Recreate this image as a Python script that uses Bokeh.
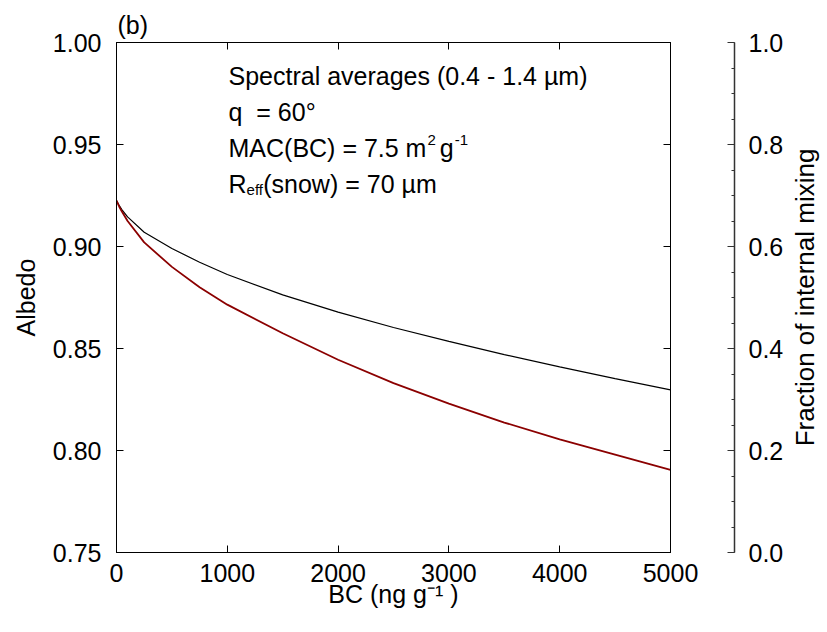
import math
from bokeh.plotting import figure
from bokeh.layouts import row
from bokeh.models import (Range1d, LinearAxis, FixedTicker, SingleIntervalTicker,
                          NumeralTickFormatter, CustomJSTickFormatter, Label)
from bokeh.embed import file_html
from bokeh.resources import INLINE

# ---- data ----
bc_ng_g = [0, 25, 50, 100, 250, 500, 750, 1000, 1500, 2000, 2500, 3000, 3500, 4000, 4500, 5000]
albedo_black = [0.9225, 0.9200, 0.9180, 0.9145, 0.9070, 0.8990, 0.8923, 0.8863, 0.8763,
                0.8678, 0.8603, 0.8535, 0.8470, 0.8410, 0.8352, 0.8297]
albedo_red = [0.9225, 0.9195, 0.9170, 0.9125, 0.9020, 0.8900, 0.8800, 0.8715, 0.8575,
              0.8445, 0.8330, 0.8230, 0.8137, 0.8055, 0.7980, 0.7905]
x_ticks = [0, 1000, 2000, 3000, 4000, 5000]
y_ticks = [0.75, 0.80, 0.85, 0.90, 0.95, 1.00]
frac_range = (0.0, 1.0)

FONT = "Liberation Sans"
FS = 25

p = figure(frame_width=554, frame_height=510, output_backend="svg", toolbar_location=None,
           x_range=Range1d(0, 5000), y_range=Range1d(0.75, 1.00),
           min_border_left=116, min_border_right=114, min_border_top=42, min_border_bottom=72)
p.grid.visible = False
p.outline_line_color = "black"
p.outline_line_width = 1
p.background_fill_color = "white"
p.border_fill_color = "white"

# panel letter as the plot title
p.title.text = "(b)"
p.title.text_font = FONT
p.title.text_font_size = f"{FS}px"
p.title.text_font_style = "normal"
p.title.text_color = "black"
p.title.align = "left"
p.title.offset = 1
p.title.standoff = 8

def style_axis(ax, labels=True):
    ax.major_tick_in = 7
    ax.major_tick_out = 0
    ax.minor_tick_in = 0
    ax.minor_tick_out = 0
    ax.axis_line_color = "black"
    ax.major_tick_line_color = "black"
    ax.major_label_text_font = FONT
    ax.major_label_text_font_size = f"{FS}px"
    ax.major_label_text_color = "black"
    ax.axis_label_text_font = FONT
    ax.axis_label_text_font_size = f"{FS}px"
    ax.axis_label_text_font_style = "normal"
    ax.axis_label_text_color = "black"
    if not labels:
        ax.formatter = CustomJSTickFormatter(code="return ''")

# bottom axis
xa = p.xaxis[0]
xa.ticker = FixedTicker(ticks=x_ticks)
xa.formatter = NumeralTickFormatter(format="0")
style_axis(xa)
xa.major_label_standoff = 11
xa.axis_label = "BC (ng g\u207b\u00b9 )"
xa.axis_label_standoff = -5

# left axis
ya = p.yaxis[0]
ya.ticker = FixedTicker(ticks=y_ticks)
ya.formatter = NumeralTickFormatter(format="0.00")
style_axis(ya)
ya.major_label_standoff = 15
ya.axis_label = "Albedo"
ya.axis_label_standoff = 10

# top axis (ticks only)
xt = LinearAxis(ticker=FixedTicker(ticks=x_ticks))
style_axis(xt, labels=False)
p.add_layout(xt, "above")

# right frame axis (ticks only), with spacer label to push the fraction axis outward
yr = LinearAxis(ticker=FixedTicker(ticks=y_ticks))
style_axis(yr, labels=False)
yr.axis_label = " "
yr.axis_label_text_font_size = "10px"
yr.axis_label_standoff = 50
p.add_layout(yr, "right")

# fraction axis
p.extra_y_ranges = {"frac": Range1d(*frac_range)}
fa = LinearAxis(y_range_name="frac", ticker=SingleIntervalTicker(interval=0.2, num_minor_ticks=4),
                formatter=NumeralTickFormatter(format="0.0"))
style_axis(fa)
fa.major_tick_in = 7
fa.minor_tick_in = 3
fa.minor_tick_out = 0
fa.axis_line_color = "#333333"
fa.axis_line_width = 1.5
fa.major_tick_line_color = "#333333"
fa.minor_tick_line_color = "#333333"
fa.major_label_standoff = 14
p.add_layout(fa, "right")

# curves
p.line(bc_ng_g, albedo_black, line_color="black", line_width=1.2)
p.line(bc_ng_g, albedo_red, line_color="#8b0000", line_width=1.8)

# ---- annotation text (inside the frame) ----
W = {' ': .278, '\u00a0': .278, '(': .333, ')': .333, '.': .278, '-': .333, '=': .584, '°': .4, 'µ': .576,
     'A': .667, 'B': .667, 'C': .722, 'M': .833, 'R': .722, 'S': .667,
     'a': .556, 'c': .5, 'e': .556, 'f': .278, 'g': .556, 'l': .222, 'm': .833, 'n': .556,
     'o': .556, 'p': .556, 'q': .556, 'r': .333, 's': .5, 't': .278, 'v': .5, 'w': .722}

def tw(s, size):
    return sum(W.get(ch, .556) for ch in s) * size

def add_pieces(x0, y_base, pieces):
    x = x0
    for text, size, dy, gap in pieces:
        x += gap
        p.add_layout(Label(x=x, y=y_base + dy, x_units="screen", y_units="screen", text=text,
                           text_font=FONT, text_font_size=f"{size}px", text_baseline="alphabetic",
                           text_align="left", text_color="black"))
        x += tw(text, size)

TX = 112
add_pieces(TX, 477, [("Spectral averages (0.4 - 1.4 µm)", FS, 0, 0)])
add_pieces(TX, 441, [("q\u00a0 = 60°", FS, 0, 0)])
add_pieces(TX, 405, [("MAC(BC) = 7.5 m", FS, 0, 0), ("2", 15, 8, 1), ("g", FS, 0, 4), ("-1", 15, 8, 1)])
add_pieces(TX, 369, [("R", FS, 0, 0), ("eff", 15, -6, 0), ("(snow) = 70 µm", FS, 0, 0)])

# ---- narrow companion figure carrying the right-hand axis title (reads bottom-to-top) ----
p2 = figure(frame_width=1, frame_height=510, output_backend="svg", toolbar_location=None,
            x_range=Range1d(0, 1), y_range=Range1d(*frac_range),
            min_border_left=0, min_border_right=0, min_border_top=42, min_border_bottom=72)
p2.grid.visible = False
p2.outline_line_color = None
p2.xaxis.visible = False
p2.background_fill_color = "white"
p2.border_fill_color = "white"
ta = p2.yaxis[0]
style_axis(ta, labels=False)
ta.major_tick_in = 0
ta.axis_line_color = None
ta.major_tick_line_color = None
ta.major_label_standoff = 0
ta.axis_label = "Fraction of internal mixing"
ta.axis_label_text_font_size = "26px"
ta.axis_label_standoff = 0

layout = row(p, p2, spacing=0)
open("out.html", "w").write(file_html(layout, INLINE))
